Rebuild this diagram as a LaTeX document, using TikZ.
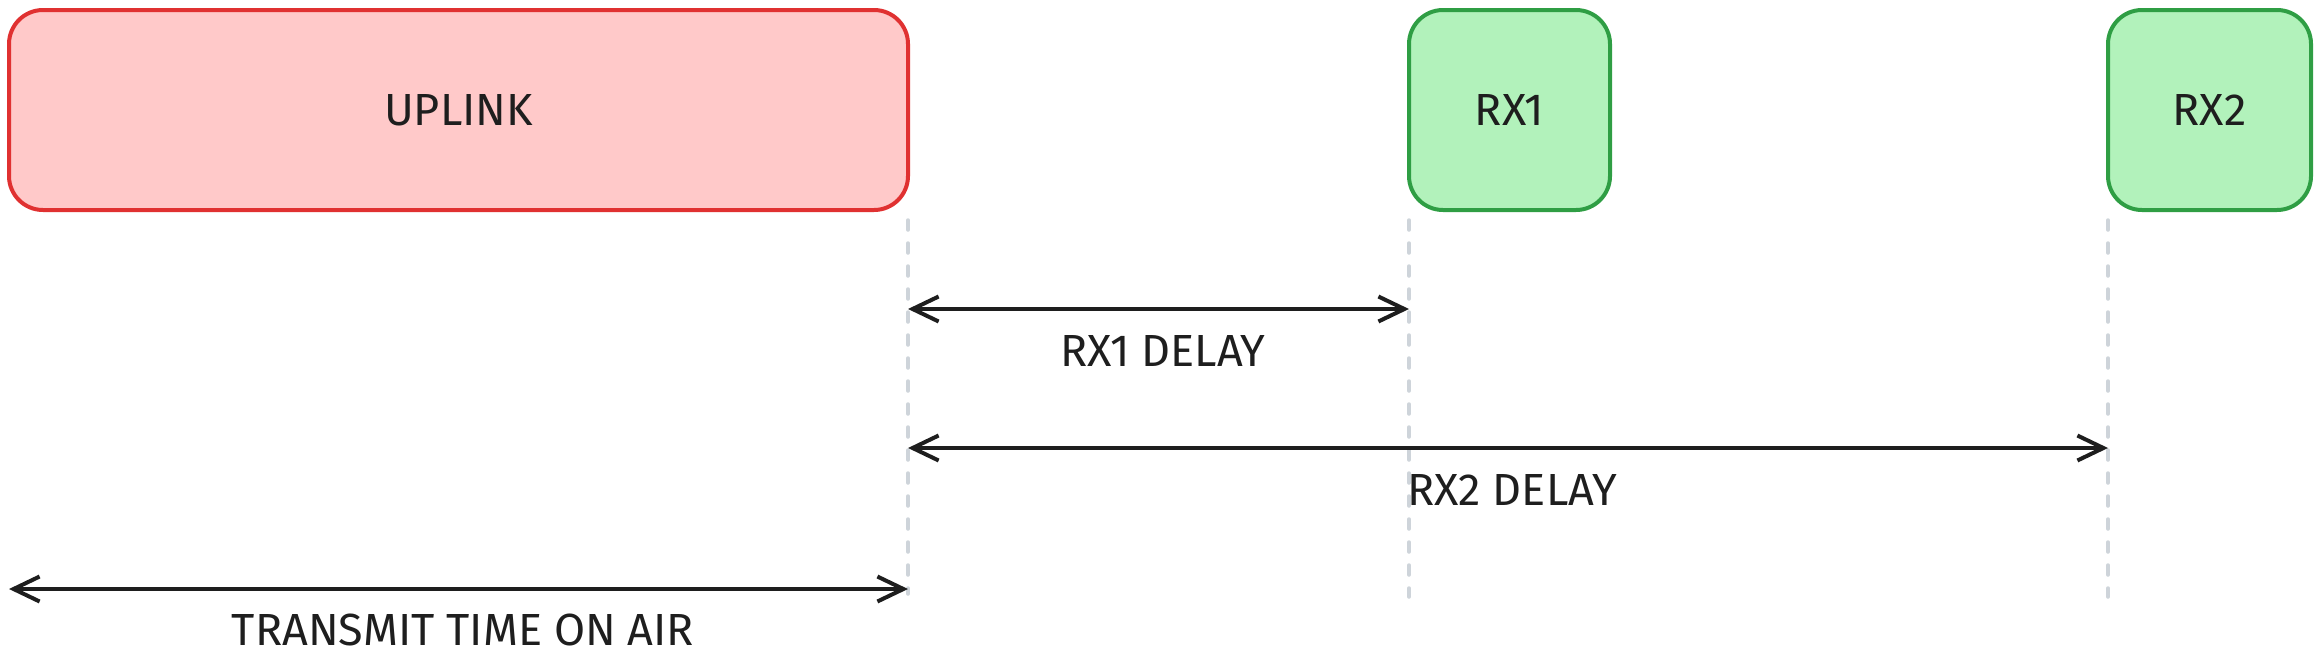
\documentclass[tikz,border=0pt]{standalone}
\usepackage{fontspec}
\setmainfont{Fira Sans}
\usetikzlibrary{arrows.meta}
\definecolor{redfill}{HTML}{FFC9C9}
\definecolor{redline}{HTML}{E03131}
\definecolor{greenfill}{HTML}{B2F2BB}
\definecolor{greenline}{HTML}{2F9E44}
\definecolor{ink}{HTML}{1E1E1E}
\definecolor{guide}{HTML}{CED4DA}
\tikzset{
  redbox/.style={draw=redline, fill=redfill, line width=4pt, rounded corners=34pt, inner sep=0pt, outer sep=0pt},
  greenbox/.style={draw=greenline, fill=greenfill, line width=4pt, rounded corners=34pt, inner sep=0pt, outer sep=0pt},
  lbl/.style={text=ink, font=\fontsize{45}{52}\selectfont},
  guideline/.style={draw=guide, line width=3.5pt, line cap=round, dash pattern=on 10pt off 13pt},
  span/.style={draw=ink, line width=4pt, {Straight Barb[length=26pt,width=25pt,line width=4pt]}-{Straight Barb[length=26pt,width=25pt,line width=4pt]}},
}
\begin{document}
\begin{tikzpicture}[x=1pt,y=-1pt]
\useasboundingbox (0,0) rectangle (2320,665);
% boxes
\node[redbox, minimum width=899pt, minimum height=200pt] (uplink) at (458.5,110) {};
\node[lbl] at (uplink.center) {UPLINK};
\node[greenbox, minimum width=201pt, minimum height=200pt] (rx1) at (1509.5,110) {};
\node[lbl] at (rx1.center) {RX1};
\node[greenbox, minimum width=203pt, minimum height=200pt] (rx2) at (2209.5,110) {};
\node[lbl] at (rx2.center) {RX2};
% guide coordinates
\coordinate (g0) at (908,594);
\coordinate (g1) at (1409,597);
\coordinate (g2) at (2108,597);
\draw[guideline] ([yshift=-10pt]uplink.south east) -- (g0);
\draw[guideline] ([yshift=-10pt]rx1.south west) -- (g1);
\draw[guideline] ([yshift=-10pt]rx2.south west) -- (g2);
% spans
\coordinate (a1s) at (908,309);
\coordinate (a1e) at (1409,309);
\coordinate (a2s) at (908,448);
\coordinate (a2e) at (2108,448);
\coordinate (a3s) at (9,589);
\coordinate (a3e) at (908,589);
\draw[span] (a1s) -- (a1e);
\draw[span] (a2s) -- (a2e);
\draw[span] (a3s) -- (a3e);
\node[lbl] (l1) at (1163,351) {RX1 DELAY};
\node[lbl] (l2) at (1512,490) {RX2 DELAY};
\node[lbl] (l3) at (463,630) {TRANSMIT TIME ON AIR};
\end{tikzpicture}
\end{document}
